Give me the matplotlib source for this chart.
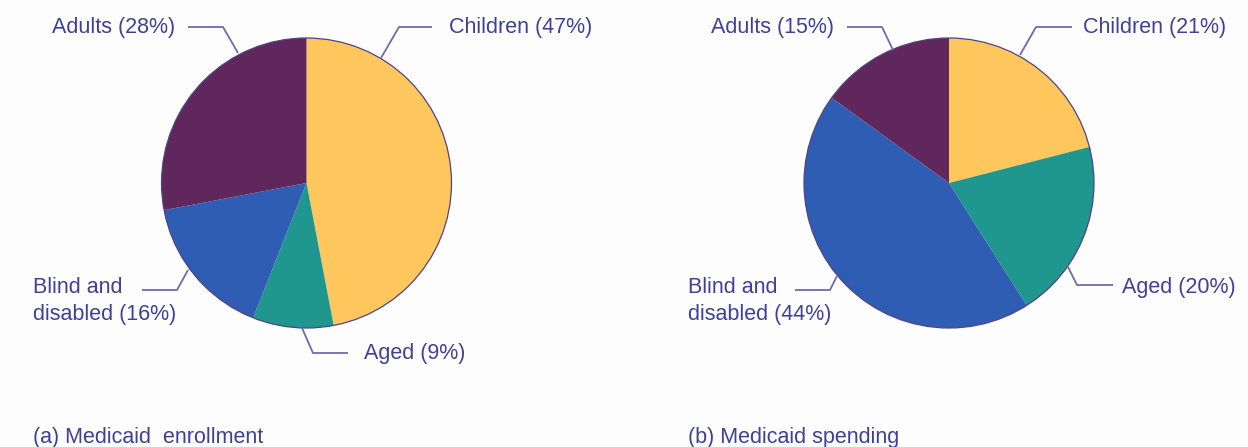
import matplotlib.pyplot as plt

plt.rcParams['font.family'] = ['Liberation Sans', 'DejaVu Sans']

# data
groups = ['Children', 'Aged', 'Blind and\ndisabled', 'Adults']
enrollment = [47, 9, 16, 28]
spending = [21, 20, 44, 15]
colors = ['#FEC75E', '#1F978E', '#2F5DB3', '#5F275B']
titles = ['(a) Medicaid  enrollment', '(b) Medicaid spending']

W, H = 1248, 447
txt_color = '#3F4096'
line_color = '#7467AE'

fig = plt.figure(figsize=(W / 100, H / 100), dpi=100)
fig.patch.set_facecolor('#FDFDFE')
ax = fig.add_axes([0, 0, 1, 1])


def py(y):
    # picture rows -> data y
    return H - y


centers = [(306.5, 183), (949, 183)]
radius = 145

for vals, (cx, cy) in zip([enrollment, spending], centers):
    ax.pie(vals, colors=colors, startangle=90, counterclock=False,
           center=(cx, py(cy)), radius=radius,
           wedgeprops=dict(edgecolor='none', linewidth=0))
    # outer rim only
    ax.add_patch(plt.Circle((cx, py(cy)), radius, fill=False,
                            edgecolor='#4E4488', lw=0.9))

# leader lines (picture coords)
leaders = [
    [(188, 27), (223, 27), (238, 53)],
    [(432, 27), (399, 27), (381, 58)],
    [(142, 290), (177, 290), (188, 270)],
    [(302, 328), (313, 353), (348, 353)],
    [(847, 27), (882, 27), (893, 50)],
    [(1072, 27), (1036, 27), (1020, 55)],
    [(795, 290), (830, 290), (837, 276)],
    [(1067, 265), (1077, 285), (1113, 285)],
]
for pts in leaders:
    ax.plot([p[0] for p in pts], [py(p[1]) for p in pts],
            color=line_color, lw=1.3, solid_capstyle='butt')

fs = 15.5
labels_a = [f'{g} ({v}%)' for g, v in zip(groups, enrollment)]
labels_b = [f'{g} ({v}%)' for g, v in zip(groups, spending)]

# children, aged, blind, adults
ax.text(449, py(27), labels_a[0], fontsize=fs, color=txt_color, va='center', ha='left')
ax.text(364, py(354), labels_a[1], fontsize=fs, color=txt_color, va='center', ha='left')
ax.text(33, py(301), labels_a[2], fontsize=fs, color=txt_color, va='center', ha='left',
        linespacing=1.32)
ax.text(52, py(27), labels_a[3], fontsize=fs, color=txt_color, va='center', ha='left')

ax.text(1083, py(27), labels_b[0], fontsize=fs, color=txt_color, va='center', ha='left')
ax.text(1122, py(287), labels_b[1], fontsize=fs, color=txt_color, va='center', ha='left')
ax.text(688, py(301), labels_b[2], fontsize=fs, color=txt_color, va='center', ha='left',
        linespacing=1.32)
ax.text(711, py(27), labels_b[3], fontsize=fs, color=txt_color, va='center', ha='left')

ax.text(33, py(437), titles[0], fontsize=fs, color=txt_color, va='center', ha='left')
ax.text(688, py(437), titles[1], fontsize=fs, color=txt_color, va='center', ha='left')

ax.set_xlim(0, W)
ax.set_ylim(0, H)
ax.set_aspect('auto')
ax.axis('off')

fig.savefig('out.png', dpi=100, facecolor=fig.get_facecolor())
